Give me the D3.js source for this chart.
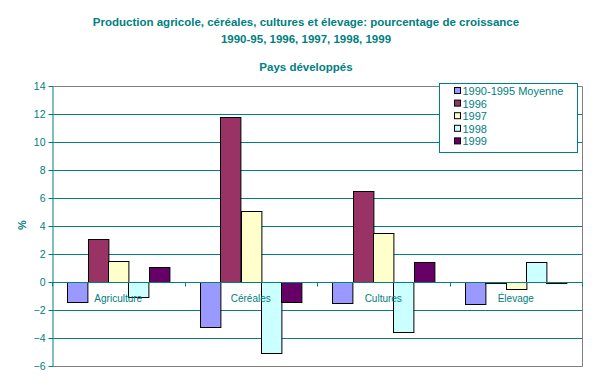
<!DOCTYPE html>
<html>
<head>
<meta charset="utf-8">
<script src="https://cdn.jsdelivr.net/npm/d3@7"></script>
<style>
  body { margin: 0; background: #fff; }
  text { font-family: Arial, "Liberation Sans", sans-serif; fill: #008080; }
</style>
</head>
<body>
<div id="chart"></div>
<script>
// data
const categories = ["Agriculture", "Céréales", "Cultures", "Élevage"];
const series = ["1990-1995 Moyenne", "1996", "1997", "1998", "1999"];
const colors = ["#9999ff", "#993366", "#ffffcc", "#ccffff", "#660066"];
const values = [
    [-1.4, -3.2, -1.5, -1.6],   // 1990-1995 Moyenne
    [3.1, 11.8, 6.5, -0.1],     // 1996
    [1.5, 5.1, 3.5, -0.5],      // 1997
    [-1.1, -5.1, -3.6, 1.4],    // 1998
    [1.1, -1.4, 1.4, -0.05]     // 1999
];
const yTicks = [-6, -4, -2, 0, 2, 4, 6, 8, 10, 12, 14];

const width = 610, height = 389;
const margin = {top: 86, right: 28, bottom: 23, left: 52};

const svg = d3.select("#chart").append("svg")
    .attr("width", width)
    .attr("height", height);

// titles
const titles = svg.append("g").attr("class", "title")
    .attr("font-weight", "bold")
    .attr("font-size", "11.5px")
    .attr("text-anchor", "middle");
titles.append("text").attr("x", 306).attr("y", 26)
    .text("Production agricole, céréales, cultures et élevage: pourcentage de croissance");
titles.append("text").attr("x", 306).attr("y", 43)
    .text("1990-95, 1996, 1997, 1998, 1999");
titles.append("text").attr("x", 306).attr("y", 71)
    .text("Pays développés");

// scales
const x0 = d3.scaleBand()
    .domain(categories)
    .range([margin.left, width - margin.right]);

const x1 = d3.scaleBand()
    .domain(series)
    .range([0, x0.bandwidth()])
    .paddingOuter(0.75);

const y = d3.scaleLinear()
    .domain([-6, 14])
    .range([height - margin.bottom, margin.top]);

// gridlines
svg.append("g").attr("class", "grid")
    .selectAll("line")
    .data(yTicks.filter(d => d !== -6 && d !== 14))
    .join("line")
    .attr("x1", margin.left).attr("x2", width - margin.right)
    .attr("y1", d => Math.round(y(d)) + 0.5).attr("y2", d => Math.round(y(d)) + 0.5)
    .attr("stroke", "#008080");

// plot border (top, right, bottom)
const x2 = width - margin.right;
svg.append("path")
    .attr("d", `M${margin.left},${Math.round(y(14)) + 0.5}H${x2 + 0.5}V${Math.round(y(-6)) + 0.5}H${margin.left}`)
    .attr("fill", "none")
    .attr("stroke", "#808080");

// bars
const groups = svg.append("g").attr("class", "bars")
    .selectAll("g")
    .data(series)
    .join("g")
    .attr("fill", (d, i) => colors[i]);

groups.selectAll("rect")
    .data((s, i) => categories.map((c, j) => ({cat: c, ser: s, v: values[i][j]})))
    .join("rect")
    .attr("x", d => Math.round(x0(d.cat) + x1(d.ser)) + 0.5)
    .attr("width", x1.bandwidth())
    .attr("y", d => Math.round(y(Math.max(0, d.v))) + 0.5)
    .attr("height", d => Math.max(0.01, Math.abs(Math.round(y(d.v)) - Math.round(y(0)))))
    .attr("stroke", "#000")
    .attr("stroke-width", 1);

// zero line with category ticks
const zeroY = Math.round(y(0)) + 0.5;
svg.append("line")
    .attr("x1", margin.left).attr("x2", x2)
    .attr("y1", zeroY).attr("y2", zeroY)
    .attr("stroke", "#008080");
svg.append("g")
    .selectAll("line")
    .data(categories.map(c => x0(c)).concat([x2]))
    .join("line")
    .attr("x1", d => Math.round(d) + 0.5).attr("x2", d => Math.round(d) + 0.5)
    .attr("y1", zeroY).attr("y2", zeroY + 4)
    .attr("stroke", "#008080");

// category labels
svg.append("g").attr("class", "cat-labels")
    .selectAll("text")
    .data(categories)
    .join("text")
    .attr("x", d => x0(d) + x0.bandwidth() / 2)
    .attr("y", zeroY + 19)
    .attr("text-anchor", "middle")
    .attr("font-size", "10px")
    .text(d => d);

// y axis
const yAxis = d3.axisLeft(y).tickValues(yTicks).tickSize(4).tickPadding(3).tickSizeOuter(0);
const yAxisGroup = svg.append("g")
    .attr("class", "y-axis axis")
    .attr("transform", `translate(${margin.left + 0.5},0)`)
    .call(yAxis);
yAxisGroup.select(".domain").attr("stroke", "#008080");
yAxisGroup.selectAll(".tick line").attr("stroke", "#008080");
yAxisGroup.selectAll(".tick text")
    .attr("font-size", "10.5px")
    .attr("font-family", "Arial, 'Liberation Sans', sans-serif")
    .attr("fill", "#008080");

svg.append("text")
    .attr("transform", `translate(26, 225) rotate(-90)`)
    .attr("text-anchor", "middle")
    .attr("font-weight", "bold")
    .attr("font-size", "11px")
    .text("%");

// legend
const legend = svg.append("g").attr("class", "legend")
    .attr("transform", "translate(439.5, 83.5)");
legend.append("rect")
    .attr("width", 138).attr("height", 69)
    .attr("fill", "#fff")
    .attr("stroke", "#008080");
const items = legend.selectAll("g")
    .data(series)
    .join("g")
    .attr("transform", (d, i) => `translate(15, ${4 + i * 12.6})`);
items.append("rect")
    .attr("width", 6).attr("height", 6)
    .attr("fill", (d, i) => colors[i])
    .attr("stroke", "#000");
items.append("text")
    .attr("x", 8).attr("y", 7.5)
    .attr("font-size", "11px")
    .text(d => d);
</script>
</body>
</html>
